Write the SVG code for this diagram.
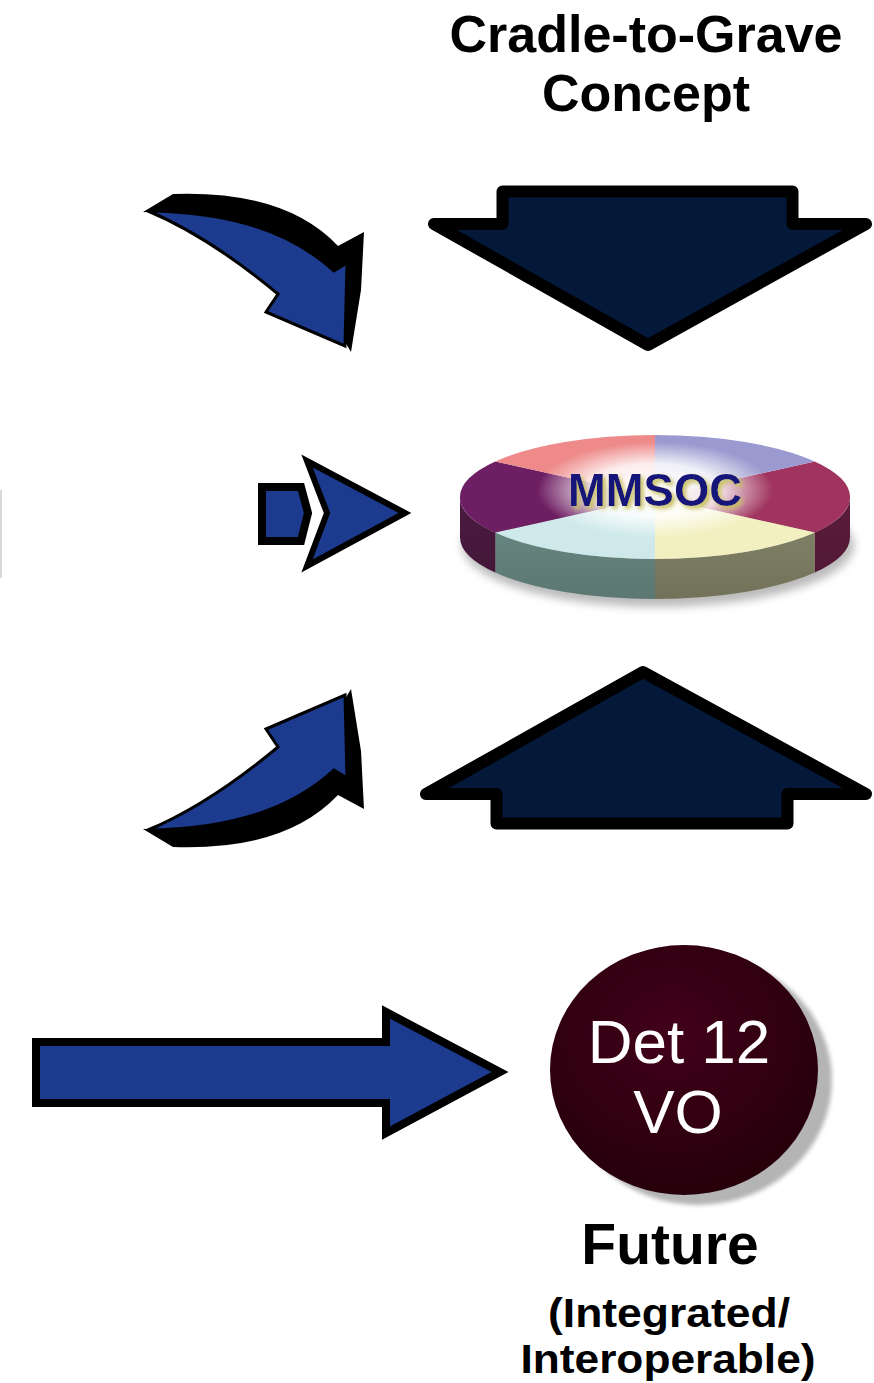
<svg xmlns="http://www.w3.org/2000/svg" width="874" height="1383" viewBox="0 0 874 1383">
<style>
.t{font-family:"Liberation Sans",Arial,sans-serif;font-weight:bold;fill:#000;text-anchor:middle}
.big{fill:#04183a;stroke:#000;stroke-width:12;stroke-linejoin:round}
.blue{fill:#1c3b8e;stroke:#000;stroke-width:3;stroke-linejoin:miter}
.shadowblk{fill:#000}
</style>
<defs>
<filter id="blur4" x="-20%" y="-20%" width="140%" height="140%"><feGaussianBlur stdDeviation="4"/></filter>
<filter id="blur2" x="-20%" y="-20%" width="140%" height="140%"><feGaussianBlur stdDeviation="2"/></filter>
<filter id="yshadow" x="-20%" y="-30%" width="140%" height="160%">
<feGaussianBlur in="SourceAlpha" stdDeviation="2" result="b"/>
<feOffset in="b" dx="3" dy="3" result="o"/>
<feFlood flood-color="#c8c060" result="f"/>
<feComposite in="f" in2="o" operator="in" result="s"/>
<feMerge><feMergeNode in="s"/><feMergeNode in="SourceGraphic"/></feMerge>
</filter>
<radialGradient id="glow" cx="0.5" cy="0.5" r="0.5">
<stop offset="0" stop-color="#fff" stop-opacity="1"/>
<stop offset="0.55" stop-color="#fff" stop-opacity="0.85"/>
<stop offset="1" stop-color="#fff" stop-opacity="0"/>
</radialGradient>
<linearGradient id="sideShade" x1="0" y1="0" x2="0" y2="1">
<stop offset="0" stop-color="#000" stop-opacity="0"/>
<stop offset="1" stop-color="#000" stop-opacity="0.15"/>
</linearGradient>
<radialGradient id="maroon" cx="0.45" cy="0.35" r="0.7">
<stop offset="0" stop-color="#42001a"/>
<stop offset="1" stop-color="#24000a"/>
</radialGradient>
<g id="curveArrow">
<path class="shadowblk" d="M143,212 L173,194 Q285,190 338,246 L364,232 L361,290 L351,352 L320,300 L250,240 L160,213 Z"/>
<path class="blue" d="M148,211 Q270,212 334,271 L347,263 L345,346 L266,312 L278,294 Q208,236 148,211 Z"/>
</g>
</defs>
<rect width="874" height="1383" fill="#fff"/>

<g id="title">
<text class="t" x="646" y="52" font-size="52">Cradle-to-Grave</text>
<text class="t" x="646" y="111" font-size="52">Concept</text>
</g>

<g id="connectors">
<use href="#curveArrow"/>
<use href="#curveArrow" transform="translate(0,1041) scale(1,-1)"/>
<polygon class="big" points="502.5,191.5 792.5,191.5 792.5,224 866,224 648,345 434,224 502.5,224"/>
<polygon class="big" points="496.5,823.5 787.5,823.5 787.5,794 866,794 643,672 426,794 496.5,794"/>
<path fill="#1c3b8e" stroke="#000" stroke-width="8" stroke-linejoin="miter" d="M262,487 L301,487 L308,513 L301,541 L262,541 Z"/>
<path fill="#1c3b8e" stroke="#000" stroke-width="6" stroke-linejoin="miter" d="M307,461 L405,513 L307,566 L327,513 Z"/>
<path fill="#1c3b8e" stroke="#000" stroke-width="8" stroke-linejoin="miter" stroke-miterlimit="10" d="M36,1042 L386,1042 L386,1012 L500,1072 L386,1133 L386,1103 L36,1103 Z"/>
<path d="M1,490 L1,578" stroke="#d9d9d9" stroke-width="2" fill="none"/>
</g>

<g id="mmsoc">
<ellipse cx="658" cy="545" rx="196" ry="62" fill="#bbb" filter="url(#blur4)"/>
<path fill="#5c1c3c" d="M850,497 A195,62 0 0 1 814.7,532.6 L814.7,572.6 A195,62 0 0 0 850,537 Z"/>
<path fill="#86866a" d="M814.7,532.6 A195,62 0 0 1 655,559 L655,599 A195,62 0 0 0 814.7,572.6 Z"/>
<path fill="#6c8c86" d="M655,559 A195,62 0 0 1 495.3,532.6 L495.3,572.6 A195,62 0 0 0 655,599 Z"/>
<path fill="#4c1a40" d="M495.3,532.6 A195,62 0 0 1 460,497 L460,537 A195,62 0 0 0 495.3,572.6 Z"/>
<path fill="url(#sideShade)" d="M850,497 A195,62 0 0 1 460,497 L460,537 A195,62 0 0 0 850,537 Z"/>
<path fill="#a0345e" d="M655,497 L814.7,461.4 A195,62 0 0 1 814.7,532.6 Z"/>
<path fill="#f2f0c0" d="M655,497 L814.7,532.6 A195,62 0 0 1 655,559 Z"/>
<path fill="#cfe9ea" d="M655,497 L655,559 A195,62 0 0 1 495.3,532.6 Z"/>
<path fill="#6e1e62" d="M655,497 L495.3,532.6 A195,62 0 0 1 495.3,461.4 Z"/>
<path fill="#ee8a8a" d="M655,497 L495.3,461.4 A195,62 0 0 1 655,435 Z"/>
<path fill="#9a9ad0" d="M655,497 L655,435 A195,62 0 0 1 814.7,461.4 Z"/>
<ellipse cx="655" cy="490" rx="118" ry="48" fill="url(#glow)"/>
<text class="t" x="655" y="506" font-size="46" style="fill:#14147a" filter="url(#yshadow)" textLength="174" lengthAdjust="spacingAndGlyphs">MMSOC</text>
</g>

<g id="det12">
<ellipse cx="698" cy="1080" rx="134" ry="125" fill="#b4b4b4" filter="url(#blur2)"/>
<ellipse cx="684" cy="1070" rx="134" ry="125" fill="url(#maroon)"/>
<text class="t" x="679" y="1063" font-size="62" style="fill:#fff;font-weight:normal">Det 12</text>
<text class="t" x="678" y="1133" font-size="62" style="fill:#fff;font-weight:normal">VO</text>
</g>

<g id="future">
<text class="t" x="670" y="1264" font-size="57">Future</text>
<text class="t" x="669" y="1327" font-size="40" textLength="242" lengthAdjust="spacingAndGlyphs">(Integrated/</text>
<text class="t" x="668" y="1373" font-size="40" textLength="295" lengthAdjust="spacingAndGlyphs">Interoperable)</text>
</g>
</svg>
